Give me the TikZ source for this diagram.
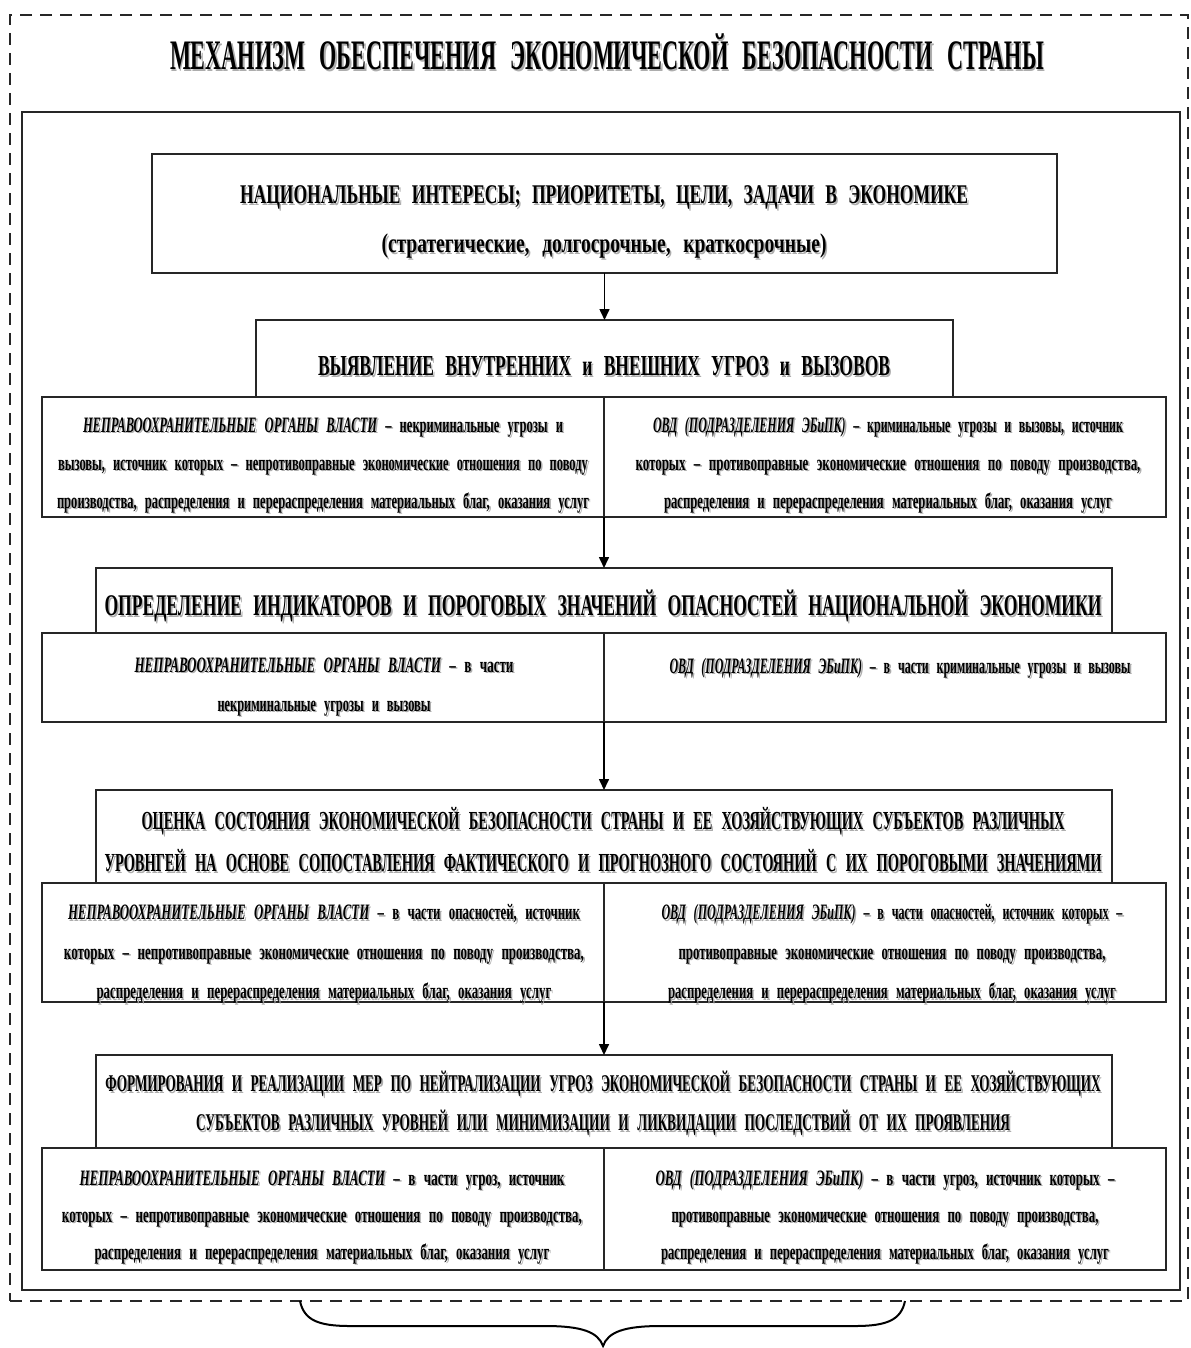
\documentclass[tikz,border=0pt]{standalone}
\usepackage{fontspec}
\usepackage{graphicx}
\usetikzlibrary{arrows.meta}
\newfontfamily\fb[FakeStretch=0.6,WordSpace=2.6]{Liberation Serif}
\colorlet{shc}{black!32}
\newlength\tmpw \newlength\sth \newlength\std
\newcommand\tsize[2]{\fontsize{#1pt}{#2pt}\selectfont
 \setlength\sth{\dimexpr(#2pt+#1pt*66/100)/2\relax}%
 \setlength\std{\dimexpr(#2pt-#1pt*66/100)/2\relax}}
\newcommand\lstrut{\rule[-\std]{0pt}{\dimexpr\sth+\std\relax}}
\newcommand\sline[2]{%
  \settowidth\tmpw{#2}%
  \edef\myratio{\fpeval{(#1)/(\the\tmpw)}}%
  \leavevmode
  \rlap{\smash{\hspace{0.8pt}\raisebox{-0.8pt}{\color{shc}\scalebox{\myratio}[1]{#2}}}}%
  \scalebox{\myratio}[1]{#2}\lstrut}
\newcommand\NPO{{\itshape НЕПРАВООХРАНИТЕЛЬНЫЕ ОРГАНЫ ВЛАСТИ}}
\newcommand\OVD{{\itshape ОВД (ПОДРАЗДЕЛЕНИЯ ЭБиПК)}}
\tikzset{
  box/.style={draw=black!85, line width=1.1pt, inner sep=0pt, outer sep=0pt},
  txt/.style={align=center, inner sep=0pt, outer sep=0pt},
  arr/.style={draw=black, line width=0.8pt, -{Triangle[width=5pt,length=5.5pt]}},
}
\begin{document}
\begin{tikzpicture}[x=0.5pt,y=-0.5pt]
\useasboundingbox (0,0) rectangle (1190,1348);
% frames
\node[draw=black!85, line width=0.9pt, dash pattern=on 6pt off 4pt, inner sep=0pt,
      minimum width=589pt, minimum height=643pt] (outer) at (599,658) {};
\node[box, line width=1pt, minimum width=579pt, minimum height=589pt] (inner) at (601,701) {};
% title
\node[txt, font=\fb\bfseries\tsize{21}{24}] (title) at (607,56)
  {\sline{437pt}{МЕХАНИЗМ ОБЕСПЕЧЕНИЯ ЭКОНОМИЧЕСКОЙ БЕЗОПАСНОСТИ СТРАНЫ}};
% level 1
\node[box, minimum width=452.5pt, minimum height=59.5pt] (b1) at (604.5,213.5) {};
\node[txt, font=\fb\bfseries\tsize{13.5}{24.5}] (b1t) at (604,219.5)
  {\sline{364pt}{НАЦИОНАЛЬНЫЕ ИНТЕРЕСЫ; ПРИОРИТЕТЫ, ЦЕЛИ, ЗАДАЧИ В ЭКОНОМИКЕ}\\
   \sline{222.5pt}{(стратегические, долгосрочные, краткосрочные)}};
% level 2
\node[box, minimum width=348.5pt, minimum height=38.5pt] (b2) at (604.5,358.5) {};
\node[txt, font=\fb\bfseries\tsize{14.5}{20}] (b2t) at (604,366)
  {\sline{286pt}{ВЫЯВЛЕНИЕ ВНУТРЕННИХ и ВНЕШНИХ УГРОЗ и ВЫЗОВОВ}};
\node[box, minimum width=281pt, minimum height=60pt] (r1l) at (323,457) {};
\node[box, minimum width=281pt, minimum height=60pt] (r1r) at (885,457) {};
\node[txt, font=\fb\bfseries\tsize{11}{18}] (r1lt) at (323,463)
  {\sline{240pt}{\NPO{} – некриминальные угрозы и}\\
   \sline{265pt}{вызовы, источник которых – непротивоправные экономические отношения по поводу}\\
   \sline{266pt}{производства, распределения и перераспределения материальных благ, оказания услуг}};
\node[txt, font=\fb\bfseries\tsize{11}{18}] (r1rt) at (888,463)
  {\sline{235pt}{\OVD{} – криминальные угрозы и вызовы, источник}\\
   \sline{252.5pt}{которых – противоправные экономические отношения по поводу производства,}\\
   \sline{224pt}{распределения и перераспределения материальных благ, оказания услуг}};
% level 3
\node[box, minimum width=508pt, minimum height=32.5pt] (b3) at (604,600.5) {};
\node[txt, font=\fb\bfseries\tsize{15}{20}] (b3t) at (603,606)
  {\sline{498.5pt}{ОПРЕДЕЛЕНИЕ ИНДИКАТОРОВ И ПОРОГОВЫХ ЗНАЧЕНИЙ ОПАСНОСТЕЙ НАЦИОНАЛЬНОЙ ЭКОНОМИКИ}};
\node[box, minimum width=281pt, minimum height=44.5pt] (r2l) at (323,677.5) {};
\node[box, minimum width=281pt, minimum height=44.5pt] (r2r) at (885,677.5) {};
\node[txt, font=\fb\bfseries\tsize{11}{18.5}] (r2lt) at (324,684.5)
  {\sline{189.5pt}{\NPO{} – в части}\\
   \sline{106.5pt}{некриминальные угрозы и вызовы}};
\node[txt, font=\fb\bfseries\tsize{11}{18.5}] (r2rt) at (900,666)
  {\sline{230.5pt}{\OVD{} – в части криминальные угрозы и вызовы}};
% level 4
\node[box, minimum width=508pt, minimum height=46.5pt] (b4) at (604,836.5) {};
\node[txt, font=\fb\bfseries\tsize{13}{20}] (b4t) at (603,842)
  {\sline{461.5pt}{ОЦЕНКА СОСТОЯНИЯ ЭКОНОМИЧЕСКОЙ БЕЗОПАСНОСТИ СТРАНЫ И ЕЕ ХОЗЯЙСТВУЮЩИХ СУБЪЕКТОВ РАЗЛИЧНЫХ}\\
   \sline{498.5pt}{УРОВНГЕЙ НА ОСНОВЕ СОПОСТАВЛЕНИЯ ФАКТИЧЕСКОГО И ПРОГНОЗНОГО СОСТОЯНИЙ С ИХ ПОРОГОВЫМИ ЗНАЧЕНИЯМИ}};
\node[box, minimum width=281pt, minimum height=59.5pt] (r3l) at (323,942.5) {};
\node[box, minimum width=281pt, minimum height=59.5pt] (r3r) at (885,942.5) {};
\node[txt, font=\fb\bfseries\tsize{11}{18.75}] (r3lt) at (324,952)
  {\sline{256pt}{\NPO{} – в части опасностей, источник}\\
   \sline{260pt}{которых – непротивоправные экономические отношения по поводу производства,}\\
   \sline{227.5pt}{распределения и перераспределения материальных благ, оказания услуг}};
\node[txt, font=\fb\bfseries\tsize{11}{18.75}] (r3rt) at (892,952)
  {\sline{230.5pt}{\OVD{} – в части опасностей, источник которых –}\\
   \sline{213.5pt}{противоправные экономические отношения по поводу производства,}\\
   \sline{224pt}{распределения и перераспределения материальных благ, оказания услуг}};
% level 5
\node[box, minimum width=508pt, minimum height=46.5pt] (b5) at (604,1101.5) {};
\node[txt, font=\fb\bfseries\tsize{12}{18.5}] (b5t) at (603,1103.5)
  {\sline{497.5pt}{ФОРМИРОВАНИЯ И РЕАЛИЗАЦИИ МЕР ПО НЕЙТРАЛИЗАЦИИ УГРОЗ ЭКОНОМИЧЕСКОЙ БЕЗОПАСНОСТИ СТРАНЫ И ЕЕ ХОЗЯЙСТВУЮЩИХ}\\
   \sline{407pt}{СУБЪЕКТОВ РАЗЛИЧНЫХ УРОВНЕЙ ИЛИ МИНИМИЗАЦИИ И ЛИКВИДАЦИИ ПОСЛЕДСТВИЙ ОТ ИХ ПРОЯВЛЕНИЯ}};
\node[box, minimum width=281pt, minimum height=61pt] (r4l) at (323,1209) {};
\node[box, minimum width=281pt, minimum height=61pt] (r4r) at (885,1209) {};
\node[txt, font=\fb\bfseries\tsize{11}{17.5}] (r4lt) at (322,1215)
  {\sline{242.5pt}{\NPO{} – в части угроз, источник}\\
   \sline{260pt}{которых – непротивоправные экономические отношения по поводу производства,}\\
   \sline{227.5pt}{распределения и перераспределения материальных благ, оказания услуг}};
\node[txt, font=\fb\bfseries\tsize{11}{17.5}] (r4rt) at (885,1215)
  {\sline{229.5pt}{\OVD{} – в части угроз, источник которых –}\\
   \sline{213.5pt}{противоправные экономические отношения по поводу производства,}\\
   \sline{224pt}{распределения и перераспределения материальных благ, оказания услуг}};
% arrows
\draw[arr] (b1.south) -- (b2.north);
\draw[arr] (r1l.south east) -- (b3.north);
\draw[arr] (r2l.south east) -- (b4.north);
\draw[arr] (r3l.south east) -- (b5.north);
% brace
\draw[black, line width=1pt]
  (300,1301) .. controls (304,1320) and (318,1326) .. (350,1326)
  -- (545,1326) .. controls (582,1326) and (598,1332) .. (603,1346)
  .. controls (608,1332) and (624,1326) .. (661,1326)
  -- (855,1326) .. controls (887,1326) and (901,1320) .. (905,1301);
\end{tikzpicture}
\end{document}
